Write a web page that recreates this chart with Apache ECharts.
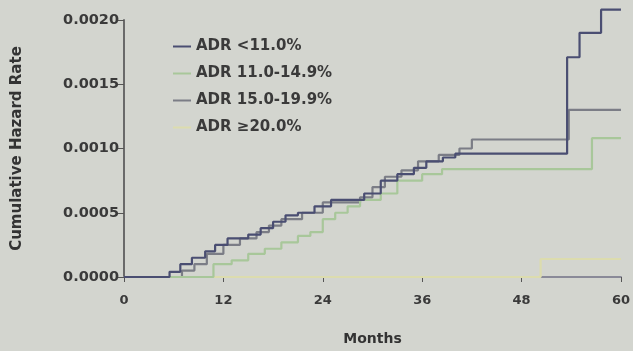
<!DOCTYPE html>
<html>
<head>
<meta charset="utf-8">
<script src="https://cdn.jsdelivr.net/npm/echarts@6/dist/echarts.min.js"></script>
<style>
html,body{margin:0;padding:0;background:#d3d5cf;}
#c{width:633px;height:351px;}
</style>
</head>
<body>
<div id="c"></div>
<script>
var seriesNames = ['ADR <11.0%', 'ADR 11.0-14.9%', 'ADR 15.0-19.9%', 'ADR \u226520.0%'];
var xTicks = [0, 12, 24, 36, 48, 60];
var yTicks = ['0.0000', '0.0005', '0.0010', '0.0015', '0.0020'];

var adrLt11 = [[0,0],[5.5,0.00004],[6.8,0.0001],[8.2,0.00015],[9.8,0.0002],[11,0.00025],[12.5,0.0003],[15,0.00033],[16.5,0.00038],[18,0.00043],[19.5,0.00048],[21,0.0005],[23,0.00055],[25,0.0006],[29,0.00065],[31,0.00075],[33,0.0008],[35,0.00085],[36.5,0.0009],[38.5,0.00093],[40,0.00096],[53.5,0.00171],[55,0.0019],[57.6,0.00208],[60,0.00208]];
var adr11to15 = [[0,0],[10.8,0.0001],[13,0.00013],[15,0.00018],[17,0.00022],[19,0.00027],[21,0.00032],[22.5,0.00035],[24,0.00045],[25.5,0.0005],[27,0.00055],[28.5,0.0006],[31,0.00065],[33,0.00075],[36,0.0008],[38.4,0.00084],[56.5,0.00108],[60,0.00108]];
var adr15to20 = [[0,0],[7,0.00005],[8.5,0.0001],[10,0.00018],[12,0.00025],[14,0.0003],[16,0.00035],[17.5,0.0004],[19,0.00045],[21.5,0.0005],[24,0.00058],[28.5,0.00062],[30,0.0007],[31.5,0.00078],[33.5,0.00083],[35.5,0.0009],[38,0.00095],[40.5,0.001],[42,0.00107],[53.7,0.0013],[60,0.0013]];
var adrGe20 = [[0,0],[50.3,0.00014],[60,0.00014]];

var colors = ['#4a4e72', '#a8c79a', '#7b7d86', '#dcdcae'];
var dataSets = [adrLt11, adr11to15, adr15to20, adrGe20];

var chart = echarts.init(document.getElementById('c'));
var series = dataSets.map(function(d, i){
  return {
    name: seriesNames[i], type: 'line', step: 'end', data: d, clip: false,
    symbol: 'none', lineStyle: {color: colors[i], width: 2.2}, itemStyle: {color: colors[i]},
    z: 10 - i
  };
});
chart.setOption({
  backgroundColor: '#d3d5cf',
  animation: false,
  grid: {left: 124, right: 11, top: 20, bottom: 69},
  legend: {
    data: seriesNames, orient: 'vertical', left: 168, top: 33,
    itemWidth: 18, itemHeight: 2, itemGap: 10, icon: 'rect',
    textStyle: {fontFamily: 'DejaVu Sans', fontWeight: 'bold', fontSize: 15, lineHeight: 17, color: '#3a3a3a'}
  },
  xAxis: {
    type: 'value', min: 0, max: 60, interval: 12,
    name: 'Months', nameLocation: 'middle', nameGap: 55,
    nameTextStyle: {fontFamily: 'DejaVu Sans', fontWeight: 'bold', fontSize: 14, color: '#333'},
    axisLine: {show: true, lineStyle: {color: '#8a8a98', width: 2}},
    axisTick: {show: true, length: 5, lineStyle: {color: '#555'}},
    axisLabel: {fontFamily: 'DejaVu Sans', fontWeight: 'bold', fontSize: 13, color: '#3a3a3a', margin: 17,
      formatter: function(v){ return xTicks.indexOf(v) >= 0 ? String(v) : ''; }},
    splitLine: {show: false}
  },
  yAxis: {
    type: 'value', min: 0, max: 0.002, interval: 0.0005,
    name: 'Cumulative Hazard Rate', nameLocation: 'middle', nameGap: 99,
    nameTextStyle: {fontFamily: 'DejaVu Sans', fontWeight: 'bold', fontSize: 15, color: '#333'},
    axisLine: {show: true, lineStyle: {color: '#6a6a6a', width: 2}},
    axisTick: {show: true, length: 7, lineStyle: {color: '#555'}},
    axisLabel: {fontFamily: 'DejaVu Sans', fontWeight: 'bold', fontSize: 14.5, color: '#3a3a3a', margin: 5,
      formatter: function(v){ return yTicks[Math.round(v / 0.0005)]; }},
    splitLine: {show: false}
  },
  series: series
});
</script>
</body>
</html>
